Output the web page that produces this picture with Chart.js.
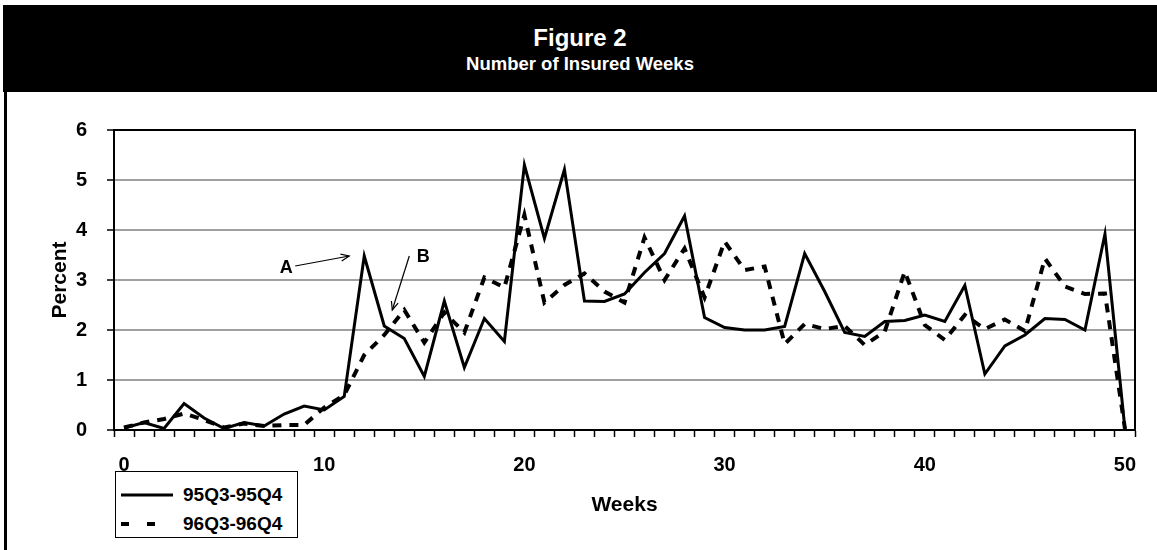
<!DOCTYPE html>
<html>
<head>
<meta charset="utf-8">
<script src="https://cdn.jsdelivr.net/npm/chart.js@4/dist/chart.umd.min.js"></script>
<style>
html,body{margin:0;padding:0;background:#fff;}
#wrap{position:relative;width:1157px;height:550px;overflow:hidden;font-family:"Liberation Sans",Arial,sans-serif;font-weight:bold;}
#titlebox{position:absolute;left:3px;top:5px;width:1154px;height:87px;background:#000;color:#fff;text-align:center;}
#t1{position:absolute;left:0;right:0;top:19px;font-size:24px;line-height:28px;}
#t2{position:absolute;left:0;right:0;top:48px;font-size:18.5px;line-height:22px;}
#lborder{position:absolute;left:4px;top:92px;width:3px;height:458px;background:#000;}
canvas{position:absolute;left:0;top:0;}
#legend{position:absolute;left:115px;top:471px;width:181px;height:65px;border:1px solid #000;background:#fff;}
.row{position:absolute;left:4px;height:22px;font-size:19px;line-height:22px;color:#000;white-space:nowrap;}
.row svg{position:absolute;left:0;top:0;}
.row span{position:absolute;left:63px;top:0;}
</style>
</head>
<body>
<div id="wrap">
  <canvas id="c" width="1157" height="550"></canvas>
  <div id="titlebox"><div id="t1">Figure 2</div><div id="t2">Number of Insured Weeks</div></div>
  <div id="lborder"></div>
  <div id="legend">
    <div class="row" style="top:12px"><svg width="60" height="22"><line x1="1" y1="11" x2="53" y2="11" stroke="#000" stroke-width="3"/></svg><span id="lg1"></span></div>
    <div class="row" style="top:41px"><svg width="60" height="22"><line x1="1" y1="11" x2="53" y2="11" stroke="#000" stroke-width="4" stroke-dasharray="8 18"/></svg><span id="lg2"></span></div>
  </div>
</div>
<script>
const weeks = ['0','1','2','3','4','5','6','7','8','9','10','11','12','13','14','15','16','17','18','19','20',
  '21','22','23','24','25','26','27','28','29','30','31','32','33','34','35','36','37','38','39','40',
  '41','42','43','44','45','46','47','48','49','50'];
const tickLabels = ['0','10','20','30','40','50'];
const seriesNames = ['95Q3-95Q4','96Q3-96Q4'];
const s95 = [0.04,0.15,0.03,0.53,0.24,0.03,0.15,0.08,0.32,0.48,0.40,0.67,
  3.48,2.08,1.83,1.07,2.58,1.25,2.23,1.77,5.30,3.83,5.21,2.58,2.57,
  2.72,3.15,3.53,4.28,2.25,2.05,2.00,2.00,2.07,3.53,2.77,1.95,1.87,2.17,
  2.19,2.30,2.17,2.89,1.12,1.68,1.90,2.23,2.21,2.00,3.92,0.01];
const s96 = [0.05,0.15,0.22,0.33,0.20,0.05,0.13,0.08,0.10,0.10,0.45,0.70,
  1.50,1.90,2.40,1.75,2.35,1.95,3.05,2.85,4.30,2.55,2.90,3.13,2.77,
  2.55,3.85,3.00,3.63,2.65,3.77,3.20,3.27,1.72,2.12,2.02,2.08,1.70,1.97,
  3.17,2.10,1.80,2.30,2.02,2.21,1.98,3.43,2.87,2.72,2.73,0.02];
const yTicks = [0,1,2,3,4,5,6];
const annotations = [
  {text:'A', at:[8.1,3.24], from:[8.55,3.28], to:[11.25,3.48]},
  {text:'B', at:[14.95,3.46], from:[14.25,3.48], to:[13.4,2.4]}
];

document.getElementById('lg1').textContent = seriesNames[0];
document.getElementById('lg2').textContent = seriesNames[1];

const FONT = '"Liberation Sans", Arial, sans-serif';

const framePlugin = {
  id:'frame',
  beforeDatasetsDraw(chart){
    const {ctx, chartArea:a} = chart;
    ctx.save();
    ctx.strokeStyle = '#000';
    ctx.lineWidth = 2;
    ctx.beginPath();
    ctx.moveTo(a.left, a.top); ctx.lineTo(a.right, a.top); ctx.lineTo(a.right, a.bottom);
    ctx.stroke();
    ctx.restore();
  }
};

const annoPlugin = {
  id:'anno',
  afterDatasetsDraw(chart){
    const {ctx} = chart;
    const xs = chart.scales.x, ys = chart.scales.y;
    const P = (p)=>[xs.getPixelForValue(p[0]), ys.getPixelForValue(p[1])];
    ctx.save();
    ctx.fillStyle = '#000';
    ctx.strokeStyle = '#000';
    ctx.font = 'bold 18px ' + FONT;
    ctx.textAlign = 'center';
    ctx.textBaseline = 'middle';
    annotations.forEach(an=>{
      const [tx,ty] = P(an.at);
      ctx.fillText(an.text, tx, ty);
      const [x1,y1] = P(an.from), [x2,y2] = P(an.to);
      ctx.lineWidth = 1.2;
      ctx.beginPath(); ctx.moveTo(x1,y1); ctx.lineTo(x2,y2); ctx.stroke();
      const ang = Math.atan2(y2-y1, x2-x1), L = 9, w = 0.4;
      ctx.beginPath();
      ctx.moveTo(x2 - L*Math.cos(ang-w), y2 - L*Math.sin(ang-w));
      ctx.lineTo(x2, y2);
      ctx.lineTo(x2 - L*Math.cos(ang+w), y2 - L*Math.sin(ang+w));
      ctx.stroke();
    });
    ctx.restore();
  }
};

new Chart(document.getElementById('c'), {
  type:'line',
  data:{
    labels: weeks,
    datasets:[
      {label:seriesNames[0], data:s95, borderColor:'#000', borderWidth:3, pointRadius:0, tension:0, fill:false},
      {label:seriesNames[1], data:s96, borderColor:'#000', borderWidth:4, borderDash:[9,8], pointRadius:0, tension:0, fill:false}
    ]
  },
  options:{
    responsive:false,
    animation:false,
    devicePixelRatio:1,
    layout:{padding:{left:0,right:22,top:130,bottom:0}},
    plugins:{legend:{display:false}, tooltip:{enabled:false}},
    scales:{
      x:{
        type:'category',
        offset:true,
        grid:{offset:true, drawOnChartArea:false, drawTicks:true, tickLength:7, tickColor:'#000', tickWidth:1.5},
        border:{display:true, color:'#000', width:2},
        ticks:{autoSkip:false, maxRotation:0, minRotation:0, padding:16, color:'#000',
          font:{family:FONT, size:20, weight:'bold'},
          callback:function(v,i){ const l = weeks[i]; return tickLabels.includes(l) ? l : ''; }},
        title:{display:true, text:'Weeks', color:'#000', font:{family:FONT, size:21, weight:'bold'}, padding:{top:0,bottom:32}},
        afterFit:function(s){ s.height = 120; }
      },
      y:{
        min:0, max:6,
        afterBuildTicks:function(s){ s.ticks = yTicks.map(v=>({value:v})); },
        grid:{color:function(c){ return (c.tick && c.tick.value===6) ? '#000' : '#a0a0a0'; }, lineWidth:2,
              drawTicks:true, tickLength:7, tickColor:'#000', tickWidth:1.5},
        border:{display:true, color:'#000', width:2},
        ticks:{padding:20, color:'#000', font:{family:FONT, size:20, weight:'bold'}},
        title:{display:true, text:'Percent', color:'#000', font:{family:FONT, size:21, weight:'bold'}, padding:{top:48,bottom:0}},
        afterFit:function(s){ s.width = 114; }
      }
    }
  },
  plugins:[framePlugin, annoPlugin]
});
</script>
</body>
</html>
